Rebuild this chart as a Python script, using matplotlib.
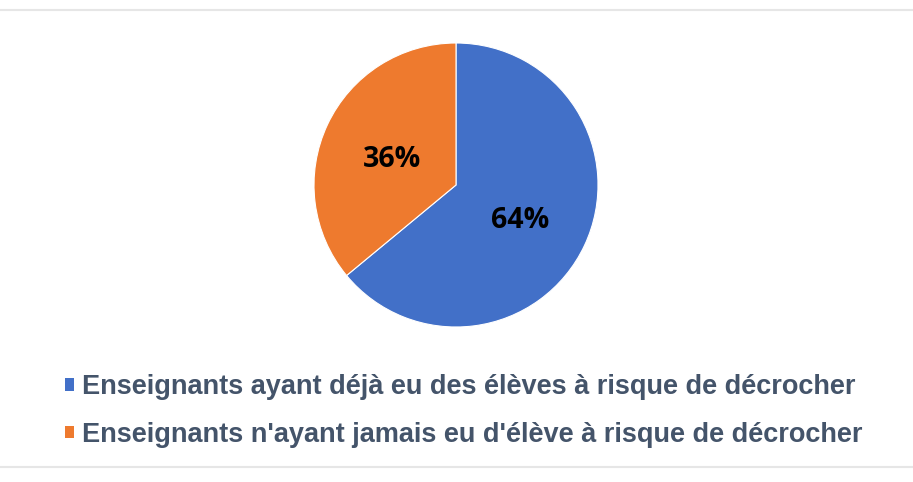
import matplotlib.pyplot as plt
from matplotlib.patches import Patch
from matplotlib.lines import Line2D

labels = ["Enseignants ayant déjà eu des élèves à risque de décrocher",
          "Enseignants n'ayant jamais eu d'élève à risque de décrocher"]
values = [64, 36]
colors = ["#4270C8", "#EE7A2E"]

fig = plt.figure(figsize=(9.13, 4.82), dpi=100)
fig.patch.set_facecolor("white")

# pie: center ~ (456, 185), radius ~142 px
ax = fig.add_axes([(456 - 142) / 913, 1 - (185 + 142) / 482, 284 / 913, 284 / 482])
wedges, texts, autotexts = ax.pie(values, colors=colors, startangle=90, counterclock=False,
                                  autopct="%d%%", pctdistance=0.5, radius=1,
                                  wedgeprops=dict(linewidth=0.8, edgecolor="white"),
                                  textprops=dict(fontsize=20.5, fontweight="bold", color="black",
                                                 family="Open Sans"))
for t in autotexts:
    t.set_y(t.get_position()[1] - 0.035)
ax.set_xlim(-1, 1)
ax.set_ylim(-1, 1)
ax.set_aspect("equal")

# legend
handles = [Patch(facecolor=c, edgecolor="none") for c in colors]
fig.legend(handles, labels, loc="upper left", bbox_to_anchor=(41 / 913, 1 - 350 / 482),
           frameon=False, handlelength=0.33, handleheight=0.33, handletextpad=0.3,
           labelspacing=0.78,
           prop=dict(family="Liberation Sans", size=19.5, weight="bold"), labelcolor="#44546A")

# thin gray separators
fig.add_artist(Line2D([0, 1], [1 - 9.5 / 482, 1 - 9.5 / 482], color="#E6E6E6", lw=1.5))
fig.add_artist(Line2D([0, 1], [1 - 467 / 482, 1 - 467 / 482], color="#E6E6E6", lw=1.5))

fig.savefig("out.png", dpi=100, facecolor="white")
